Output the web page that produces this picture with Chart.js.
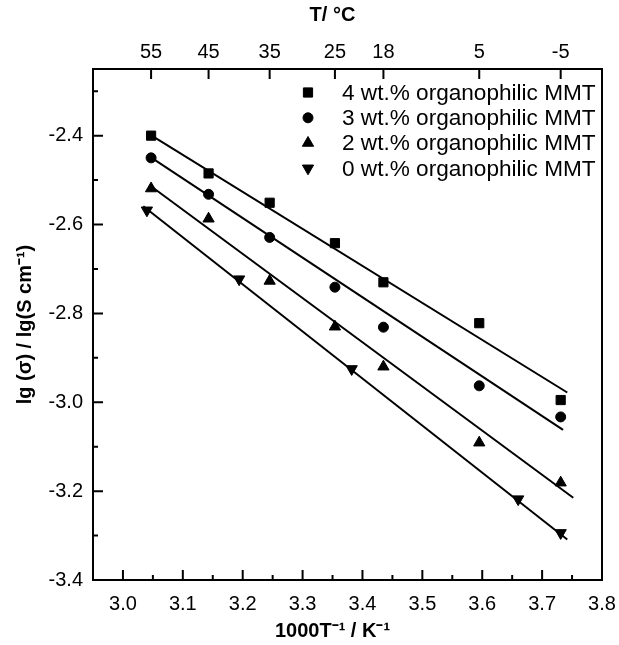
<!DOCTYPE html>
<html>
<head>
<meta charset="utf-8">
<title>Conductivity vs inverse temperature</title>
<script src="https://cdn.jsdelivr.net/npm/chart.js@4/dist/chart.umd.min.js"></script>
<style>
  html, body { margin: 0; padding: 0; background: #fff; }
</style>
</head>
<body>
<canvas id="myChart" width="619" height="645"></canvas>
<script>
// inverse temperature (1000/T) of the measurement points and the matching T in °C
var invT = [3.047, 3.143, 3.245, 3.354, 3.435, 3.595, 3.731];
var tempLabels = ['55', '45', '35', '25', '18', '5', '-5'];

// axis tick values
var xTicks = [3.0, 3.1, 3.2, 3.3, 3.4, 3.5, 3.6, 3.7, 3.8];
var yTicks = [-3.4, -3.2, -3.0, -2.8, -2.6, -2.4];

// lg(sigma) for each MMT loading
var mmt4 = [-2.400, -2.485, -2.551, -2.642, -2.730, -2.822, -2.995];
var mmt3 = [-2.450, -2.532, -2.629, -2.741, -2.831, -2.963, -3.033];
var mmt2 = [-2.519, -2.587, -2.727, -2.830, -2.920, -3.091, -3.181];
var invT0 = [3.040, 3.194, 3.382, 3.660, 3.731];
var mmt0 = [-2.568, -2.723, -2.925, -3.218, -3.294];

// Arrhenius fit lines (start / end)
var fitX4 = [3.048, 3.742], fitY4 = [-2.400, -2.978];
var fitX3 = [3.048, 3.735], fitY3 = [-2.450, -3.062];
var fitX2 = [3.048, 3.752], fitY2 = [-2.515, -3.215];
var fitX0 = [3.034, 3.742], fitY0 = [-2.559, -3.309];

var seriesLabels = [
  '4 wt.% organophilic MMT',
  '3 wt.% organophilic MMT',
  '2 wt.% organophilic MMT',
  '0 wt.% organophilic MMT'
];

function pts(xs, ys) {
  return xs.map(function (x, i) { return { x: x, y: ys[i] }; });
}

var FONT = "'Liberation Sans', Arial, sans-serif";
// trailing en spaces nudge the centred axis titles a little to the left
var NUDGE = '\u2002\u2002\u2002';

function markerSet(label, xs, ys, style, radius, rotation) {
  return {
    label: label,
    data: pts(xs, ys),
    pointStyle: style,
    pointRadius: radius,
    rotation: rotation || 0,
    backgroundColor: '#000',
    borderColor: '#000',
    borderWidth: 1,
    showLine: false
  };
}

function fitLine(xs, ys) {
  return {
    data: pts(xs, ys),
    showLine: true,
    pointRadius: 0,
    borderColor: '#000',
    borderWidth: 2,
    fill: false
  };
}

function fixedTicks(values) {
  return function (s) {
    s.ticks = values.map(function (v) { return { value: v }; });
  };
}

// fixed axis band size, no extra side padding for the end labels
function bandHeight(h) {
  return function (s) {
    s.height = h;
    s.paddingLeft = 0;
    s.paddingRight = 0;
  };
}

// box around the plot plus inward tick marks
var frameTicks = {
  id: 'frameTicks',
  afterDatasetsDraw: function (chart) {
    var ctx = chart.ctx, a = chart.chartArea;
    var sx = chart.scales.x, sy = chart.scales.y, st = chart.scales.x2;
    ctx.save();
    ctx.strokeStyle = '#000';
    ctx.lineWidth = 2;
    ctx.strokeRect(a.left, a.top, a.right - a.left, a.bottom - a.top);
    ctx.beginPath();
    sx.ticks.forEach(function (t) {
      var p = sx.getPixelForValue(t.value);
      ctx.moveTo(p, a.bottom); ctx.lineTo(p, a.bottom - 10);
      if (t.value + 0.05 < sx.max) {
        var m = sx.getPixelForValue(t.value + 0.05);
        ctx.moveTo(m, a.bottom); ctx.lineTo(m, a.bottom - 5);
      }
    });
    sy.ticks.forEach(function (t) {
      var p = sy.getPixelForValue(t.value);
      ctx.moveTo(a.left, p); ctx.lineTo(a.left + 10, p);
      if (t.value + 0.1 < sy.max) {
        var m = sy.getPixelForValue(t.value + 0.1);
        ctx.moveTo(a.left, m); ctx.lineTo(a.left + 5, m);
      }
    });
    st.ticks.forEach(function (t) {
      var p = st.getPixelForValue(t.value);
      ctx.moveTo(p, a.top); ctx.lineTo(p, a.top + 10);
    });
    ctx.stroke();
    ctx.restore();
  }
};

// legend drawn inside the plot, top right
var insideLegend = {
  id: 'insideLegend',
  afterDraw: function (chart) {
    var ctx = chart.ctx;
    var rows = [92.5, 117.8, 143, 168.3];
    ctx.save();
    ctx.fillStyle = '#000';
    ctx.strokeStyle = '#000';
    ctx.lineWidth = 1;
    ctx.font = '22.6px ' + FONT;
    ctx.textBaseline = 'middle';
    ctx.textAlign = 'left';
    for (var i = 0; i < 4; i++) {
      var ds = chart.data.datasets[i];
      Chart.helpers.drawPoint(ctx, {
        pointStyle: ds.pointStyle,
        rotation: ds.rotation,
        radius: ds.pointRadius,
        borderWidth: 1
      }, 308, rows[i]);
      ctx.fillText(ds.label, 342, rows[i] + 1);
    }
    ctx.restore();
  }
};

var noGrid = { display: false, drawTicks: false };

window.onload = function () {
  var ctx = document.getElementById('myChart');
  var chart = new Chart(ctx, {
    type: 'scatter',
    data: {
      datasets: [
        markerSet(seriesLabels[0], invT, mmt4, 'rect', 6.5),
        markerSet(seriesLabels[1], invT, mmt3, 'circle', 5),
        markerSet(seriesLabels[2], invT, mmt2, 'triangle', 6.5),
        markerSet(seriesLabels[3], invT0, mmt0, 'triangle', 6.5, 180),
        fitLine(fitX4, fitY4),
        fitLine(fitX3, fitY3),
        fitLine(fitX2, fitY2),
        fitLine(fitX0, fitY0)
      ]
    },
    options: {
      responsive: false,
      animation: false,
      layout: { padding: { right: 17 } },
      plugins: {
        legend: { display: false },
        tooltip: { enabled: false }
      },
      scales: {
        x: {
          type: 'linear',
          position: 'bottom',
          min: 2.95,
          max: 3.8,
          grid: noGrid,
          border: { display: false },
          afterBuildTicks: fixedTicks(xTicks),
          ticks: {
            autoSkip: false,
            maxRotation: 0,
            padding: 12,
            color: '#000',
            font: { family: FONT, size: 20 },
            callback: function (v) { return v.toFixed(1); }
          },
          title: {
            display: true,
            text: '1000T\u207B\u00B9 / K\u207B\u00B9' + NUDGE,
            color: '#000',
            font: { family: FONT, size: 20, weight: 'bold' },
            padding: { top: 0, bottom: 2 }
          },
          afterFit: bandHeight(65)
        },
        x2: {
          type: 'linear',
          position: 'top',
          min: 2.95,
          max: 3.8,
          grid: noGrid,
          border: { display: false },
          afterBuildTicks: fixedTicks(invT),
          ticks: {
            autoSkip: false,
            maxRotation: 0,
            padding: 5,
            color: '#000',
            font: { family: FONT, size: 20 },
            callback: function (v, i) { return tempLabels[i]; }
          },
          title: {
            display: true,
            text: 'T/ \u00B0C' + NUDGE,
            color: '#000',
            font: { family: FONT, size: 20, weight: 'bold' },
            padding: { top: 3, bottom: 0 }
          },
          afterFit: bandHeight(69)
        },
        y: {
          type: 'linear',
          min: -3.4,
          max: -2.25,
          grid: noGrid,
          border: { display: false },
          afterBuildTicks: fixedTicks(yTicks),
          ticks: {
            padding: 10,
            color: '#000',
            font: { family: FONT, size: 20 },
            callback: function (v) { return v.toFixed(1); }
          },
          title: {
            display: true,
            text: 'lg (\u03C3) / lg(S cm\u207B\u00B9)',
            color: '#000',
            font: { family: FONT, size: 20, weight: 'bold' },
            padding: { top: 13, bottom: 0 }
          },
          afterFit: function (s) { s.width = 93; }
        }
      }
    },
    plugins: [frameTicks, insideLegend]
  });
};
</script>
</body>
</html>
